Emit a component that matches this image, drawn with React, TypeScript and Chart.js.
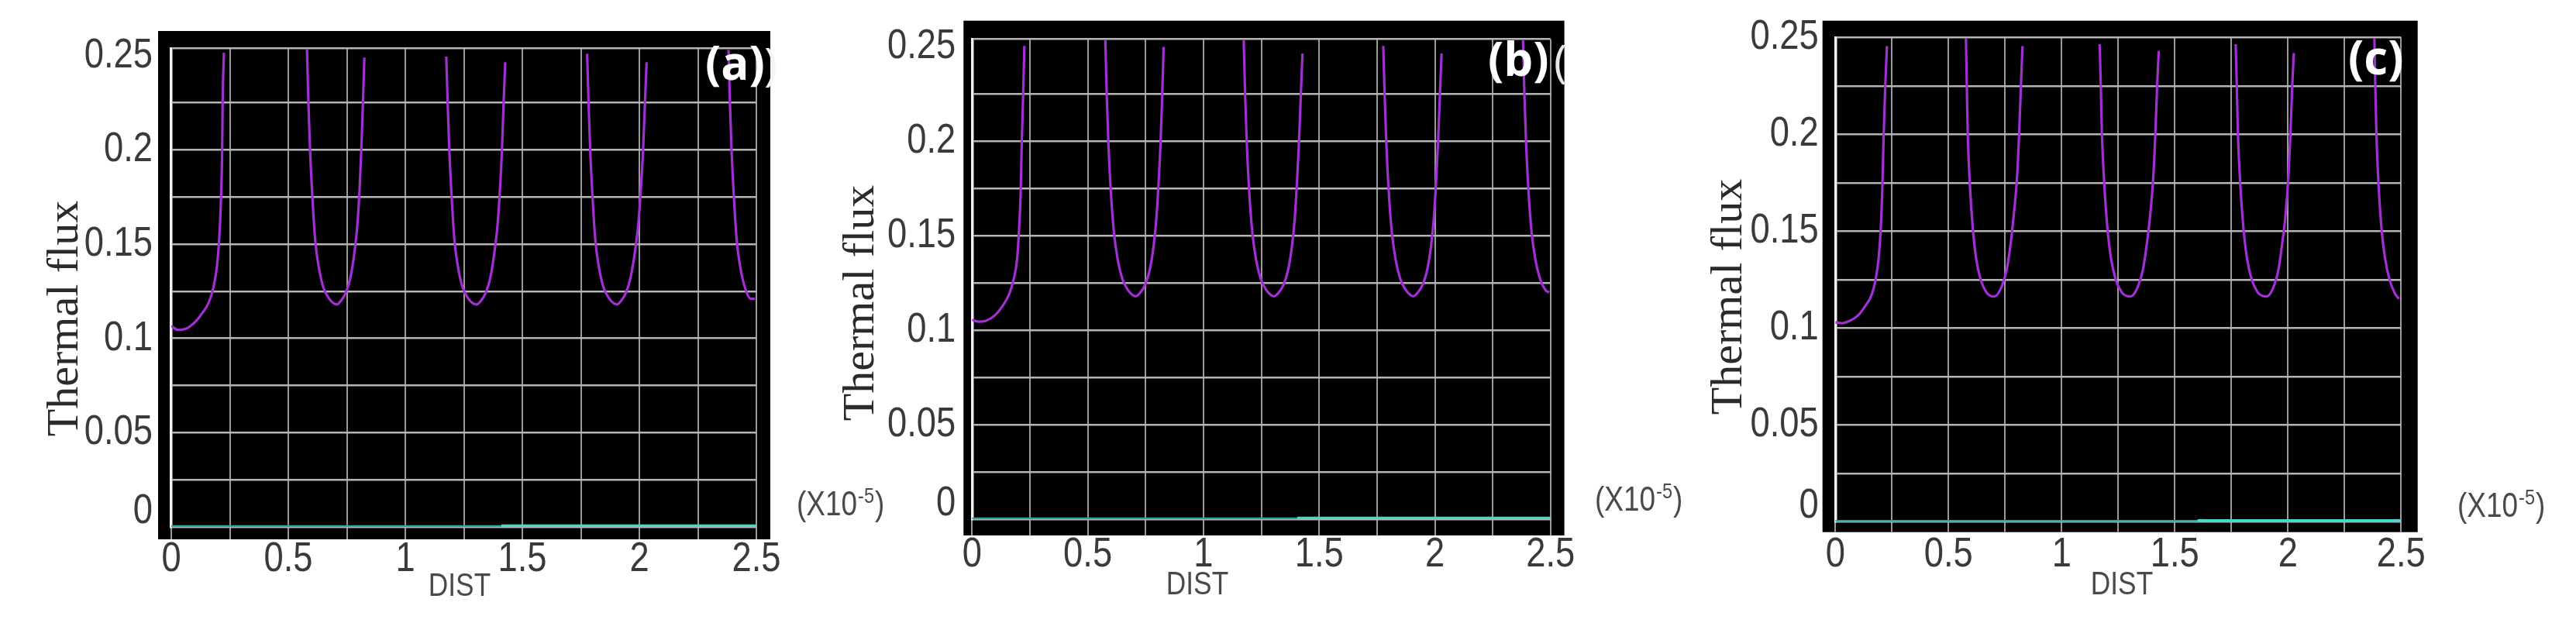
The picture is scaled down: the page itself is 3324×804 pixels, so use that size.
import React, { useEffect, useRef } from 'react';
import { Chart, registerables } from 'chart.js';

Chart.register(...registerables);

// ---------------- data ----------------
const X_GRID = [0, 0.25, 0.5, 0.75, 1, 1.25, 1.5, 1.75, 2, 2.25, 2.5];
const X_LABELS = ['0', '0.5', '1', '1.5', '2', '2.5'];
const Y_GRID = [0, 0.025, 0.05, 0.075, 0.1, 0.125, 0.15, 0.175, 0.2, 0.225, 0.25];
const Y_LABELS = ['0', '0.05', '0.1', '0.15', '0.2', '0.25'];

const Y_TITLE = 'Thermal flux';
const X_TITLE = 'DIST';
const X_UNIT = '(X10';
const X_UNIT_EXP = '-5';
const X_UNIT_END = ')';

// panel (a)
const A_FLUX_X = [
  0, 0.03, 0.06, 0.10, 0.13, 0.16, 0.18, 0.195, 0.205, 0.212, 0.2175, 0.2195, 0.225,
  0.40,
  0.580, 0.586, 0.593, 0.603, 0.615, 0.630, 0.650, 0.675, 0.695, 0.708, 0.722, 0.745, 0.765, 0.782, 0.795, 0.805, 0.812, 0.819, 0.825,
  1.00,
  1.175, 1.181, 1.188, 1.198, 1.210, 1.225, 1.245, 1.270, 1.290, 1.305, 1.320, 1.343, 1.363, 1.380, 1.394, 1.405, 1.413, 1.420, 1.427,
  1.60,
  1.777, 1.783, 1.790, 1.800, 1.812, 1.827, 1.847, 1.872, 1.892, 1.905, 1.919, 1.942, 1.962, 1.980, 1.995, 2.007, 2.016, 2.024, 2.031,
  2.20,
  2.381, 2.387, 2.394, 2.404, 2.416, 2.431, 2.451, 2.476, 2.494,
];
const A_FLUX_Y = [
  0.1065, 0.1045, 0.105, 0.1085, 0.113, 0.119, 0.127, 0.138, 0.153, 0.172, 0.2, 0.225, 0.2515,
  null,
  0.2535, 0.225, 0.2, 0.175, 0.152, 0.138, 0.127, 0.121, 0.1185, 0.118, 0.1195, 0.124, 0.132, 0.145, 0.16, 0.18, 0.2, 0.225, 0.249,
  null,
  0.2495, 0.225, 0.2, 0.175, 0.152, 0.138, 0.127, 0.121, 0.1185, 0.118, 0.1195, 0.124, 0.132, 0.145, 0.16, 0.18, 0.2, 0.225, 0.2465,
  null,
  0.251, 0.225, 0.2, 0.175, 0.152, 0.138, 0.127, 0.121, 0.1185, 0.118, 0.1195, 0.124, 0.132, 0.145, 0.16, 0.18, 0.2, 0.225, 0.2465,
  null,
  0.253, 0.225, 0.2, 0.175, 0.152, 0.138, 0.127, 0.121, 0.121,
];
const A_FAST_X = [0, 1.418, 1.418, 2.5];
const A_FAST_Y = [0, 0, 0.0004, 0.0004];

// panel (b)
const B_FLUX_X = [
  0, 0.03, 0.06, 0.10, 0.13, 0.16, 0.18, 0.195, 0.203, 0.21, 0.215, 0.221, 0.226,
  0.40,
  0.576, 0.582, 0.589, 0.599, 0.613, 0.630, 0.650, 0.675, 0.695, 0.709, 0.724, 0.748, 0.768, 0.785, 0.797, 0.807, 0.815, 0.822, 0.828,
  1.00,
  1.174, 1.180, 1.187, 1.197, 1.211, 1.228, 1.248, 1.273, 1.293, 1.307, 1.322, 1.346, 1.366, 1.383, 1.395, 1.405, 1.413, 1.421, 1.428,
  1.60,
  1.777, 1.783, 1.790, 1.800, 1.814, 1.831, 1.851, 1.876, 1.896, 1.908, 1.923, 1.947, 1.967, 1.984, 1.996, 2.006, 2.014, 2.022, 2.029,
  2.20,
  2.381, 2.387, 2.394, 2.404, 2.418, 2.435, 2.455, 2.480, 2.494,
];
const B_FLUX_Y = [
  0.1055, 0.1045, 0.105, 0.108, 0.1125, 0.119, 0.127, 0.138, 0.153, 0.172, 0.2, 0.225, 0.2505,
  null,
  0.2535, 0.225, 0.2, 0.175, 0.152, 0.137, 0.127, 0.121, 0.1185, 0.118, 0.1195, 0.124, 0.132, 0.145, 0.16, 0.18, 0.2, 0.225, 0.25,
  null,
  0.2535, 0.225, 0.2, 0.175, 0.152, 0.137, 0.127, 0.121, 0.1185, 0.118, 0.1195, 0.124, 0.132, 0.145, 0.16, 0.18, 0.2, 0.225, 0.2465,
  null,
  0.2505, 0.225, 0.2, 0.175, 0.152, 0.137, 0.127, 0.121, 0.1185, 0.118, 0.1195, 0.124, 0.132, 0.145, 0.16, 0.18, 0.2, 0.225, 0.2465,
  null,
  0.2535, 0.225, 0.2, 0.175, 0.152, 0.137, 0.127, 0.121, 0.12,
];
const B_FAST_X = [0, 1.413, 1.413, 2.5];
const B_FAST_Y = [0, 0, 0.0004, 0.0004];

// panel (c)
const C_FLUX_X = [
  0, 0.03, 0.06, 0.10, 0.13, 0.16, 0.178, 0.192, 0.200, 0.207, 0.2136, 0.2205, 0.228,
  0.40,
  0.577, 0.581, 0.585, 0.594, 0.607, 0.622, 0.642, 0.667, 0.687, 0.700, 0.714, 0.737, 0.757, 0.774, 0.788, 0.803, 0.812, 0.820, 0.827,
  1.00,
  1.168, 1.173, 1.178, 1.188, 1.202, 1.218, 1.239, 1.265, 1.287, 1.302, 1.316, 1.339, 1.359, 1.376, 1.391, 1.405, 1.414, 1.422, 1.429,
  1.60,
  1.769, 1.774, 1.779, 1.789, 1.803, 1.819, 1.840, 1.866, 1.888, 1.903, 1.917, 1.939, 1.958, 1.974, 1.989, 2.002, 2.011, 2.019, 2.026,
  2.20,
  2.382, 2.386, 2.391, 2.400, 2.413, 2.429, 2.449, 2.472, 2.490,
];
const C_FLUX_Y = [
  0.103, 0.1025, 0.1035, 0.1065, 0.111, 0.117, 0.125, 0.137, 0.150, 0.170, 0.2, 0.225, 0.2455,
  null,
  0.2495, 0.225, 0.2, 0.175, 0.152, 0.136, 0.125, 0.1185, 0.1165, 0.1163, 0.117, 0.122, 0.130, 0.143, 0.158, 0.178, 0.2, 0.225, 0.2455,
  null,
  0.2465, 0.225, 0.2, 0.175, 0.152, 0.136, 0.125, 0.1185, 0.1165, 0.1163, 0.117, 0.122, 0.130, 0.143, 0.158, 0.178, 0.2, 0.225, 0.243,
  null,
  0.2465, 0.225, 0.2, 0.175, 0.152, 0.136, 0.125, 0.1185, 0.1165, 0.1163, 0.117, 0.122, 0.130, 0.143, 0.158, 0.178, 0.2, 0.225, 0.242,
  null,
  0.2495, 0.225, 0.2, 0.175, 0.152, 0.136, 0.125, 0.118, 0.115,
];
const C_FAST_X = [0, 1.608, 1.608, 2.5];
const C_FAST_Y = [0, 0, 0.0004, 0.0004];

// ---------------- layout / style ----------------
const W = 3324;
const H = 804;
const AXIS_W = 180;
const AXIS_H = 100;

const LABEL_FONT = "'Liberation Sans', Arial, sans-serif";
const NARROW = 0.84;
const TITLE_FONT = "'Liberation Serif', 'DejaVu Serif', serif";
const TAG_FONT = "'Open Sans', 'Noto Sans', sans-serif";
const TICK_COLOR = '#3a3a3a';
const TEXT_GREY = '#4a4a4a';
const FLUX_COLOR = '#a22ed6';
const FAST_DARK = '#27aa9e';
const FAST_BRIGHT = '#46d8d0';
const ZERO_LABEL_LIFT = 20;

const PANELS = [
  {
    tag: '(a)', fluxX: A_FLUX_X, fluxY: A_FLUX_Y, fastX: A_FAST_X, fastY: A_FAST_Y,
    area: { l: 221, r: 976, t: 62.3, b: 680 }, inset: { l: 17, r: 18, t: 22.3, b: 16 },
    yMax: 0.2539, tickLen: 16, yPad: 24, xLabelY: 722,
    title: [85, 411], dist: [593, 757], unit: [1028, 653], tagPos: [910, 103],
    tail: { ch: ')', x: 986, y: 104, size: 58, color: '#f4f4f4' },
  },
  {
    tag: '(b)', fluxX: B_FLUX_X, fluxY: B_FLUX_Y, fastX: B_FAST_X, fastY: B_FAST_Y,
    area: { l: 1254.3, r: 2000.8, t: 50.7, b: 670 }, inset: { l: 11, r: 17.8, t: 24, b: 21 },
    yMax: 0.254, tickLen: 21, yPad: 21, xLabelY: 716,
    title: [1112, 391], dist: [1545, 755], unit: [2058, 647], tagPos: [1920, 98],
    tail: { ch: '(', x: 2005, y: 100, size: 58, color: '#e6e6e6' },
  },
  {
    tag: '(c)', fluxX: C_FLUX_X, fluxY: C_FLUX_Y, fastX: C_FAST_X, fastY: C_FAST_Y,
    area: { l: 2368.3, r: 3098.3, t: 48.3, b: 673.3 }, inset: { l: 16.6, r: 21.4, t: 21.6, b: 13.4 },
    yMax: 0.25, tickLen: 13.4, yPad: 21.6, xLabelY: 716,
    title: [2232, 383], dist: [2738, 755], unit: [3171, 655], tagPos: [3030, 96],
    tail: null,
  },
];

function narrowText(ctx: CanvasRenderingContext2D, text: string, x: number, y: number, align: CanvasTextAlign) {
  ctx.save();
  ctx.translate(x, y);
  ctx.scale(NARROW, 1);
  ctx.textAlign = align;
  ctx.fillText(text, 0, 0);
  ctx.restore();
}

function PanelChart({ p }: { p: any }) {
  const ref = useRef<HTMLCanvasElement>(null);

  useEffect(() => {
    const fluxData = p.fluxX.map((x: number, i: number) => ({ x, y: p.fluxY[i] }));
    const fastData = p.fastX.map((x: number, i: number) => ({ x, y: p.fastY[i] }));
    const yTicks = p.yMax > 0.2502 ? [...Y_GRID, p.yMax] : Y_GRID;
    const hideLabelOnlyTick = p.yMax > 0.2502;

    const decor = {
      id: 'decor',
      beforeDraw(chart: any) {
        const { ctx, chartArea: a } = chart;
        ctx.save();
        ctx.fillStyle = '#000';
        ctx.fillRect(
          a.left - p.inset.l,
          a.top - p.inset.t,
          a.right - a.left + p.inset.l + p.inset.r,
          a.bottom - a.top + p.inset.t + p.inset.b,
        );
        ctx.restore();
      },
      afterDraw(chart: any) {
        const ctx = chart.ctx as CanvasRenderingContext2D;
        const xs = chart.scales.x;
        const ys = chart.scales.y;
        const a = chart.chartArea;

        // tick labels (condensed look)
        ctx.save();
        ctx.fillStyle = TICK_COLOR;
        ctx.font = `54px ${LABEL_FONT}`;
        ctx.textBaseline = 'middle';
        X_LABELS.forEach((l) => {
          narrowText(ctx, l, xs.getPixelForValue(parseFloat(l)), p.xLabelY, 'center');
        });
        Y_LABELS.forEach((l) => {
          const v = parseFloat(l);
          const lift = v === 0 ? ZERO_LABEL_LIFT : 0;
          narrowText(ctx, l, a.left - p.yPad, ys.getPixelForValue(v) - lift, 'right');
        });
        ctx.restore();

        // y title
        ctx.save();
        ctx.translate(p.title[0], p.title[1]);
        ctx.rotate(-Math.PI / 2);
        ctx.font = `58px ${TITLE_FONT}`;
        ctx.fillStyle = '#2b2b2b';
        ctx.textAlign = 'center';
        ctx.textBaseline = 'middle';
        ctx.fillText(Y_TITLE, 0, 0);
        ctx.restore();

        // x title
        ctx.save();
        ctx.font = `42px ${LABEL_FONT}`;
        ctx.fillStyle = TEXT_GREY;
        ctx.textBaseline = 'middle';
        narrowText(ctx, X_TITLE, p.dist[0], p.dist[1], 'center');
        ctx.restore();

        // unit (X10^-5)
        ctx.save();
        ctx.fillStyle = TEXT_GREY;
        ctx.textBaseline = 'middle';
        let x = p.unit[0];
        ctx.font = `44px ${LABEL_FONT}`;
        narrowText(ctx, X_UNIT, x, p.unit[1], 'left');
        x += ctx.measureText(X_UNIT).width * NARROW + 1;
        ctx.font = `28px ${LABEL_FONT}`;
        narrowText(ctx, X_UNIT_EXP, x, p.unit[1] - 12, 'left');
        x += ctx.measureText(X_UNIT_EXP).width * NARROW + 1;
        ctx.font = `44px ${LABEL_FONT}`;
        narrowText(ctx, X_UNIT_END, x, p.unit[1], 'left');
        ctx.restore();

        // panel tag
        ctx.save();
        ctx.fillStyle = '#ffffff';
        ctx.font = `bold 60px ${TAG_FONT}`;
        ctx.textAlign = 'left';
        ctx.textBaseline = 'alphabetic';
        ctx.fillText(p.tag, p.tagPos[0], p.tagPos[1]);
        if (p.tail) {
          ctx.fillStyle = p.tail.color;
          ctx.font = `${p.tail.size}px ${TAG_FONT}`;
          ctx.fillText(p.tail.ch, p.tail.x, p.tail.y);
        }
        ctx.restore();
      },
    };

    const chart = new Chart(ref.current as HTMLCanvasElement, {
      type: 'line',
      data: {
        datasets: [
          {
            data: fastData,
            borderColor: FAST_DARK,
            segment: {
              borderColor: (ctx: any) => (ctx.p0DataIndex >= 1 && ctx.p1.parsed.y > 0 ? FAST_BRIGHT : FAST_DARK),
            },
            borderWidth: 4.5,
            pointRadius: 0,
            tension: 0,
          },
          {
            data: fluxData,
            borderColor: FLUX_COLOR,
            borderWidth: 3.2,
            pointRadius: 0,
            cubicInterpolationMode: 'monotone',
            spanGaps: false,
          },
        ],
      } as any,
      options: {
        responsive: false,
        animation: false,
        devicePixelRatio: 1,
        events: [],
        layout: {
          padding: {
            left: p.area.l - AXIS_W,
            right: W - p.area.r,
            top: p.area.t,
            bottom: H - p.area.b - AXIS_H,
          },
        },
        plugins: {
          legend: { display: false },
          tooltip: { enabled: false },
          title: { display: false },
        },
        scales: {
          x: {
            type: 'linear',
            min: 0,
            max: 2.5,
            afterBuildTicks: (s: any) => {
              s.ticks = X_GRID.map((v) => ({ value: v }));
            },
            afterFit: (s: any) => {
              s.height = AXIS_H;
            },
            grid: {
              color: '#9a9a9a',
              tickColor: '#9a9a9a',
              lineWidth: 2,
              drawTicks: true,
              tickLength: p.tickLen,
            },
            border: { display: false },
            ticks: { display: false, autoSkip: false, maxRotation: 0 },
          },
          y: {
            type: 'linear',
            min: 0,
            max: p.yMax,
            afterBuildTicks: (s: any) => {
              s.ticks = yTicks.map((v: number) => ({ value: v }));
            },
            afterFit: (s: any) => {
              s.width = AXIS_W;
            },
            grid: {
              color: (ctx: any) =>
                hideLabelOnlyTick && ctx.tick && Math.abs(ctx.tick.value - 0.25) < 1e-9 ? 'rgba(0,0,0,0)' : '#b4b4b4',
              lineWidth: 2.5,
              drawTicks: false,
            },
            border: { display: true, color: '#f2f2f2', width: 3.5 },
            ticks: { display: false, autoSkip: false },
          },
        },
      } as any,
      plugins: [decor],
    });
    return () => chart.destroy();
  }, []);

  return (
    <canvas
      ref={ref}
      width={W}
      height={H}
      style={{ position: 'absolute', left: 0, top: 0, width: W, height: H }}
    />
  );
}

export default function App() {
  return (
    <div
      style={{
        position: 'absolute',
        left: 0,
        top: 0,
        width: W,
        height: H,
        background: '#ffffff',
        overflow: 'hidden',
      }}
    >
      {PANELS.map((p, i) => (
        <PanelChart key={i} p={p} />
      ))}
    </div>
  );
}
